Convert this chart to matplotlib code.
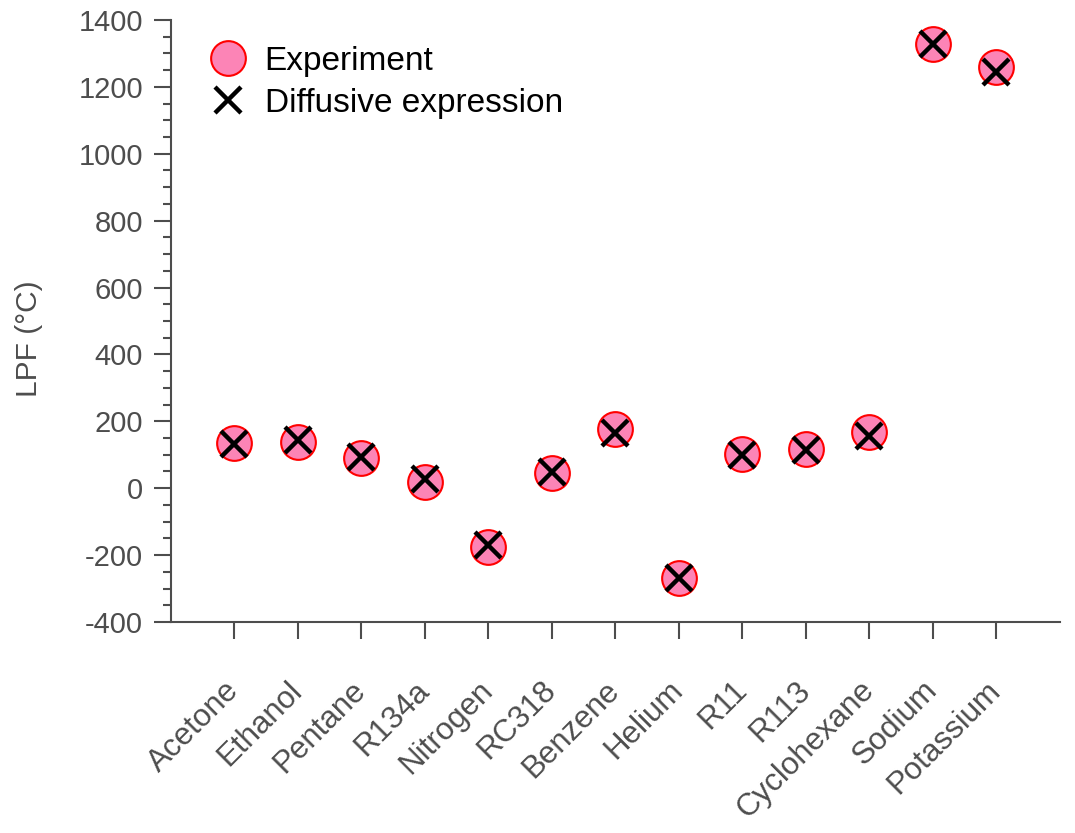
import numpy as np
import matplotlib
matplotlib.use('Agg')
import matplotlib.pyplot as plt
from matplotlib.ticker import MultipleLocator

fluids = ['Acetone', 'Ethanol', 'Pentane', 'R134a', 'Nitrogen', 'RC318', 'Benzene',
          'Helium', 'R11', 'R113', 'Cyclohexane', 'Sodium', 'Potassium']
experiment = [136, 139, 91, 19, -175, 46, 176, -268, 102, 118, 167, 1327, 1260]
diffusive = [132, 145, 94, 29, -170, 48, 166, -268, 99, 114, 156, 1327, 1245]

plt.rcParams['font.family'] = ['Liberation Sans', 'DejaVu Sans']
plt.rcParams['axes.unicode_minus'] = False
grey = '#4d4d4d'

fig = plt.figure(figsize=(10.75, 8.33), dpi=100)
ax = fig.add_axes([0.159, 0.2533, 0.827, 0.7227])

x = np.arange(1, len(fluids) + 1)
ax.plot(x, experiment, 'o', ms=25, mfc='#fc84b6', mec='red', mew=1.5, label='Experiment')
ax.plot(x, diffusive, 'x', ms=19, mec='black', mew=3.2, label='Diffusive expression')

ax.set_xlim(0, 14)
ax.set_ylim(-400, 1400)
ax.set_xticks(x)
ax.set_xticklabels(fluids, rotation=45, ha='right', va='center', rotation_mode='anchor')
ax.yaxis.set_major_locator(MultipleLocator(200))
ax.yaxis.set_minor_locator(MultipleLocator(50))

for s in ['top', 'right']:
    ax.spines[s].set_visible(False)
for s in ['left', 'bottom']:
    ax.spines[s].set_color(grey)
    ax.spines[s].set_linewidth(1.5)

ax.tick_params(axis='both', which='major', length=12, width=1.5, color=grey,
               labelcolor=grey)
ax.tick_params(axis='y', which='major', labelsize=21, pad=8)
ax.tick_params(axis='x', which='major', labelsize=22.5, pad=34)
ax.tick_params(axis='y', which='minor', length=6, width=1.5, color=grey)
ax.set_ylabel('LPF (°C)', fontsize=21.5, color=grey)
ax.yaxis.set_label_coords(-0.144, 0.47)

ax.legend(loc='upper left', frameon=False, fontsize=24, handlelength=1.2,
          handletextpad=0.5, borderpad=0, borderaxespad=0, labelspacing=0.33,
          bbox_to_anchor=(0.0416, 0.957))

fig.savefig('out.png', dpi=100)
